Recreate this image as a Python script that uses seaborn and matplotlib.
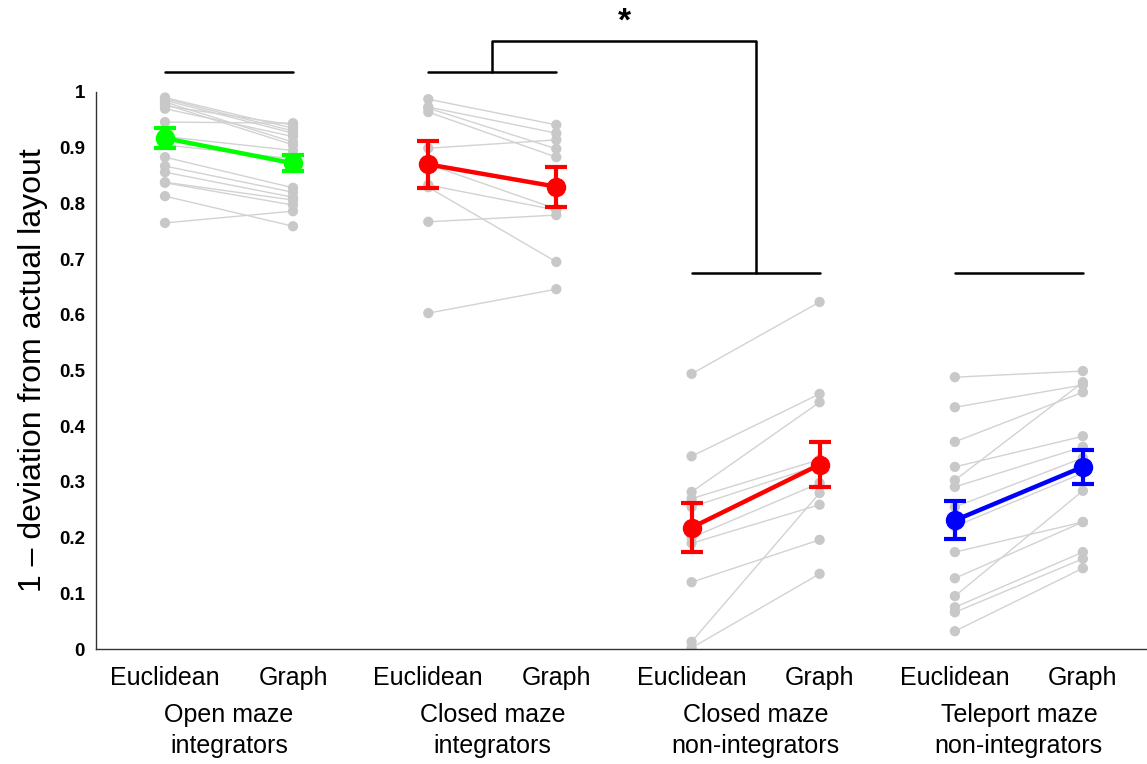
import matplotlib
matplotlib.use("Agg")
import matplotlib.pyplot as plt
import seaborn as sns
import pandas as pd
import numpy as np

# per-subject scores, (euclidean, graph) pairs per group
open_int_euc = [0.990, 0.988, 0.985, 0.982, 0.978, 0.975, 0.970, 0.946, 0.920, 0.905, 0.883, 0.867, 0.856, 0.838, 0.837, 0.813, 0.765]
open_int_gra = [0.935, 0.930, 0.926, 0.910, 0.905, 0.941, 0.920, 0.944, 0.895, 0.880, 0.828, 0.820, 0.811, 0.806, 0.797, 0.759, 0.786]
closed_int_euc = [0.987, 0.973, 0.971, 0.964, 0.899, 0.870, 0.833, 0.829, 0.767, 0.603]
closed_int_gra = [0.941, 0.926, 0.898, 0.883, 0.914, 0.790, 0.788, 0.695, 0.779, 0.646]
closed_non_euc = [0.494, 0.346, 0.282, 0.270, 0.255, 0.200, 0.190, 0.120, 0.013, 0.002]
closed_non_gra = [0.623, 0.458, 0.443, 0.340, 0.330, 0.298, 0.259, 0.196, 0.280, 0.135]
tele_non_euc = [0.488, 0.434, 0.372, 0.327, 0.303, 0.291, 0.255, 0.220, 0.174, 0.127, 0.095, 0.075, 0.066, 0.032]
tele_non_gra = [0.499, 0.474, 0.461, 0.382, 0.479, 0.363, 0.343, 0.316, 0.228, 0.228, 0.284, 0.174, 0.162, 0.145]

group_names = ["Open maze\nintegrators", "Closed maze\nintegrators",
               "Closed maze\nnon-integrators", "Teleport maze\nnon-integrators"]
cond_labels = ["Euclidean", "Graph"]
mean_euc = [0.917, 0.870, 0.218, 0.231]
mean_gra = [0.872, 0.830, 0.331, 0.327]
sem_euc = [0.018, 0.042, 0.044, 0.034]
sem_gra = [0.014, 0.036, 0.041, 0.031]
group_colors = ["#00ff00", "#ff0000", "#ff0000", "#0000ff"]
yticks = [0, 0.1, 0.2, 0.3, 0.4, 0.5, 0.6, 0.7, 0.8, 0.9, 1]
ytick_labels = ["0", "0.1", "0.2", "0.3", "0.4", "0.5", "0.6", "0.7", "0.8", "0.9", "1"]

pairs = [(open_int_euc, open_int_gra), (closed_int_euc, closed_int_gra),
         (closed_non_euc, closed_non_gra), (tele_non_euc, tele_non_gra)]
step = 2.057
base = [1 + step * i for i in range(4)]

rows = []
for g, (euc, gra) in enumerate(pairs):
    for s, (e, v) in enumerate(zip(euc, gra)):
        rows.append(dict(subj=f"{g}_{s}", x=base[g], y=e))
        rows.append(dict(subj=f"{g}_{s}", x=base[g] + 1, y=v))
df = pd.DataFrame(rows)

sns.set_style("white")
plt.rcParams['font.family'] = ['Liberation Sans', 'DejaVu Sans']
plt.rcParams['text.color'] = 'black'
plt.rcParams['axes.labelcolor'] = 'black'
plt.rcParams['xtick.color'] = 'black'
plt.rcParams['ytick.color'] = 'black'

fig = plt.figure(figsize=(11.47, 7.64), dpi=100)
ax = fig.add_axes([0.0837, 0.1505, 0.9163, 0.7291])

sns.lineplot(data=df, x="x", y="y", units="subj", estimator=None,
             color="#d2d2d2", lw=1.0, ax=ax, zorder=1)
sns.scatterplot(data=df, x="x", y="y", color="#c8c8c8", s=55,
                edgecolor="none", ax=ax, zorder=2)

for g in range(4):
    xs = [base[g], base[g] + 1]
    ax.errorbar(xs, [mean_euc[g], mean_gra[g]], yerr=[sem_euc[g], sem_gra[g]],
                color=group_colors[g], lw=3.2, marker="o", ms=13,
                capsize=8, capthick=3, elinewidth=3, zorder=5)

ax.set_xlim(1 - 69 / 128, 1 - 69 / 128 + 1051 / 128)
ax.set_ylim(0, 1)
xt = [b + d for b in base for d in (0, 1)]
ax.set_xticks(xt)
ax.set_xticklabels(cond_labels * 4, fontsize=18)
ax.set_yticks(yticks)
ax.set_yticklabels(ytick_labels, fontsize=13.5, fontweight="bold")
ax.tick_params(axis="both", direction="in", length=7, width=1, color="#333333")
ax.tick_params(axis="x", pad=12)
ax.tick_params(axis="y", pad=8)
ax.set_xlabel("")
ax.set_ylabel("1 \u2013 deviation from actual layout", fontsize=23, labelpad=8)
for side in ["top", "right"]:
    ax.spines[side].set_visible(False)
for side in ["left", "bottom"]:
    ax.spines[side].set_color("#333333")
    ax.spines[side].set_linewidth(1)

for g in range(4):
    ax.text(base[g] + 0.5, -0.146, group_names[g], transform=ax.get_xaxis_transform(),
            ha="center", va="center", fontsize=18, linespacing=1.35)

# significance brackets
kw = dict(color="black", lw=1.8, clip_on=False, zorder=6)
top_y = [1.036, 1.036, 0.675, 0.675]
for g in range(4):
    ax.plot([base[g], base[g] + 1], [top_y[g]] * 2, **kw)
m1 = base[1] + 0.5
m2 = base[2] + 0.5
ax.plot([m1, m1, m2, m2], [1.036, 1.092, 1.092, 0.675], **kw)
ax.text((m1 + m2) / 2, 1.125, "*", ha="center", va="center", fontsize=24,
        fontweight="bold")

fig.savefig("out.png", dpi=100)
